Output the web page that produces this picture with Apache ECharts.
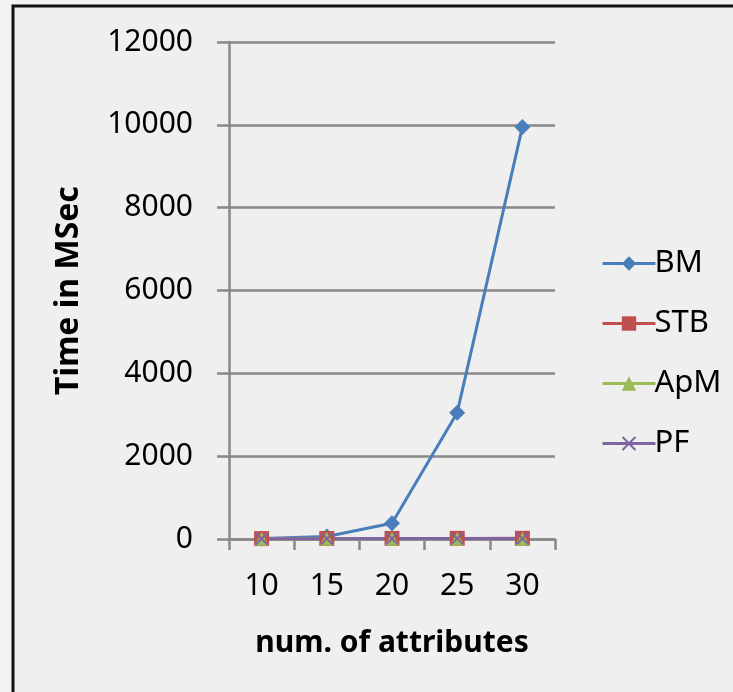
<!DOCTYPE html>
<html>
<head>
<meta charset="utf-8">
<script src="https://cdn.jsdelivr.net/npm/echarts@6/dist/echarts.min.js"></script>
<style>
  html, body { margin: 0; padding: 0; background: #f3f3f3; }
  #chart { width: 733px; height: 692px; }
</style>
</head>
<body>
<div id="chart"></div>
<script>
// Run time (ms) per number of attributes
const attributes = ['10', '15', '20', '25', '30'];
const bmTimes  = [15, 60, 380, 3050, 9950];
const stbTimes = [10, 12, 14, 15, 16];
const apmTimes = [5, 6, 7, 8, 9];
const pfTimes  = [8, 9, 10, 11, 12];
const yTicks = [0, 2000, 4000, 6000, 8000, 10000, 12000];

const crossSymbol = 'path://M1,0L5,4L9,0L10,1L6,5L10,9L9,10L5,6L1,10L0,9L4,5L0,1Z';
const font = '"Noto Sans", "Open Sans", sans-serif';

const chart = echarts.init(document.getElementById('chart'));

function lineSeries(name, data, color, symbol, size) {
  return {
    name: name,
    type: 'line',
    data: data,
    symbol: symbol,
    symbolSize: size,
    showAllSymbol: true,
    lineStyle: { color: color, width: 3 },
    itemStyle: { color: color },
    emphasis: { disabled: true },
    animation: false
  };
}

chart.setOption({
  backgroundColor: '#f3f3f3',
  animation: false,
  graphic: [{
    type: 'rect',
    shape: { x: 13, y: 6, width: 760, height: 720 },
    style: { fill: '#efefef', stroke: '#111', lineWidth: 3 },
    z: -10, silent: true
  }],
  grid: { left: 229, right: 178, top: 42, bottom: 153 },
  legend: {
    orient: 'vertical',
    left: 596,
    top: 243,
    itemGap: 29,
    itemWidth: 53,
    itemHeight: 18,
    lineStyle: { width: 3 },
    textStyle: { fontFamily: font, fontSize: 31, color: '#000', padding: [0, 0, 0, -6] },
    data: ['BM', 'STB', 'ApM', 'PF']
  },
  xAxis: {
    type: 'category',
    data: attributes,
    boundaryGap: true,
    name: 'num. of attributes',
    nameLocation: 'middle',
    nameGap: 89,
    nameTextStyle: { fontFamily: font, fontSize: 30, fontWeight: 'bold', color: '#000' },
    axisLine: { lineStyle: { color: '#888', width: 2.5 } },
    axisTick: { show: true, length: 11, inside: false, lineStyle: { color: '#888', width: 2.5 } },
    axisLabel: { fontFamily: font, fontSize: 30, color: '#000', margin: 32 }
  },
  yAxis: {
    type: 'value',
    min: yTicks[0],
    max: yTicks[yTicks.length - 1],
    interval: yTicks[1] - yTicks[0],
    name: 'Time in MSec',
    nameLocation: 'middle',
    nameGap: 144,
    nameTextStyle: { fontFamily: font, fontSize: 32, fontWeight: 'bold', color: '#000' },
    axisLine: { show: true, lineStyle: { color: '#888', width: 2.5 } },
    axisTick: { show: true, length: 12, lineStyle: { color: '#888', width: 2.5 } },
    splitLine: { lineStyle: { color: '#888', width: 2.5 } },
    axisLabel: { fontFamily: font, fontSize: 30, color: '#000', margin: 36, formatter: v => String(v) }
  },
  series: [
    lineSeries('BM', bmTimes, '#4a7ebb', 'diamond', 16),
    lineSeries('STB', stbTimes, '#c0504d', 'rect', 15),
    lineSeries('ApM', apmTimes, '#9bbb59', 'triangle', 14),
    lineSeries('PF', pfTimes, '#8064a2', crossSymbol, 13)
  ]
});
</script>
</body>
</html>
